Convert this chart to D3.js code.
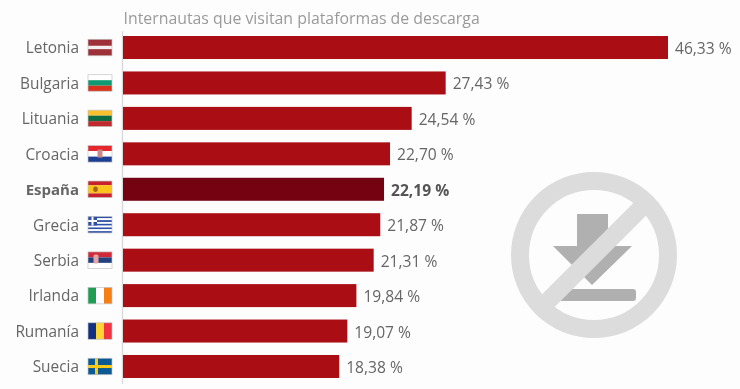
<!DOCTYPE html>
<html>
<head>
<meta charset="utf-8">
<script src="https://cdn.jsdelivr.net/npm/d3@7"></script>
<style>
html,body{margin:0;padding:0;background:#fdfdfd;overflow:hidden}
svg{display:block;filter:blur(.55px)}
text{font-family:"Open Sans",sans-serif}
</style>
</head>
<body>
<svg id="chart" width="740" height="389"></svg>
<script>
const title = 'Internautas que visitan plataformas de descarga'
const countries = ['Letonia','Bulgaria','Lituania','Croacia','España','Grecia','Serbia','Irlanda','Rumanía','Suecia']
const values = [46.33,27.43,24.54,22.70,22.19,21.87,21.31,19.84,19.07,18.38]
const highlight = 'España'

// flag stripes, top to bottom or left to right
const flagStripes = {
	'Letonia':[['#9e3039',2],['#f4eeee',1],['#9e3039',2]],
	'Bulgaria':[['#ffffff',1],['#0f9a72',1],['#d8311c',1]],
	'Lituania':[['#fbc02d',1],['#0f6b41',1],['#bf2a2f',1]],
	'Croacia':[['#e5262c',1],['#ffffff',1],['#1c3f94',1]],
	'España':[['#c8202c',1],['#fbc31c',2],['#c8202c',1]],
	'Grecia':[['#2d4fa8',1],['#ffffff',1],['#2d4fa8',1],['#ffffff',1],['#2d4fa8',1],['#ffffff',1],['#2d4fa8',1],['#ffffff',1],['#2d4fa8',1]],
	'Serbia':[['#d0293a',1],['#23407f',1],['#ffffff',1]],
	'Irlanda':[['#1f9e53',1],['#ffffff',1],['#f57f17',1]],
	'Rumanía':[['#12307f',1],['#fbd535',1],['#ef3340',1]],
	'Suecia':[['#0b5a94',1]]
}
const verticalFlags = ['Irlanda','Rumanía']

const svg = d3.select('#chart')
const x = d3.scaleLinear().domain([0,46.33]).range([123,668])
const y = d3.scaleBand().domain(countries).range([30.7,383.3]).paddingInner(0.351).paddingOuter(0.15)
const fmt = d3.formatLocale({decimal:',',thousands:'.',grouping:[3],currency:['','€']}).format('.2f')

svg.append('text')
	.attr('x',123.5)
	.attr('y',24)
	.attr('fill','#9a9a9a')
	.attr('font-size',15.85)
	.text(title)

// category axis
const axis = svg.append('g')
	.attr('transform','translate(122,0)')
	.call(d3.axisLeft(y).tickSize(0).tickPadding(43))
axis.select('.domain').attr('stroke','#d9d9d9').attr('stroke-width',1.4)
axis.selectAll('text')
	.style('font-family','"Open Sans",sans-serif')
	.attr('font-size',d=>d===highlight?15:15.4)
	.attr('fill','#666')
	.attr('font-weight',d=>d===highlight?700:400)
	.attr('dy','.38em')

// bars
svg.selectAll('.bar')
	.data(countries)
	.join('rect')
	.attr('class','bar')
	.attr('x',x(0))
	.attr('y',d=>y(d))
	.attr('width',(d,i)=>x(values[i])-x(0))
	.attr('height',y.bandwidth())
	.attr('fill',d=>d===highlight?'#750211':'#ab0d14')

svg.selectAll('.value')
	.data(countries)
	.join('text')
	.attr('class','value')
	.attr('x',(d,i)=>x(values[i])+7)
	.attr('y',d=>y(d)+y.bandwidth()/2+1)
	.attr('dy','.35em')
	.attr('font-size',15.6)
	.attr('fill',d=>d===highlight?'#555':'#666')
	.attr('font-weight',d=>d===highlight?700:400)
	.text((d,i)=>fmt(values[i])+' %')

// flags
const flagW = 24, flagH = 16.5
const flags = svg.selectAll('.flag')
	.data(countries)
	.join('g')
	.attr('class','flag')
	.attr('transform',d=>`translate(88,${y(d)+y.bandwidth()/2-flagH/2})`)

flags.each(function(name){
	const g = d3.select(this)
	const stripes = flagStripes[name]
	const vertical = verticalFlags.includes(name)
	const total = d3.sum(stripes,s=>s[1])
	const len = vertical?flagW:flagH
	let pos = 0
	for (let s of stripes){
		const size = s[1]/total*len
		g.append('rect')
			.attr('x',vertical?pos:0)
			.attr('y',vertical?0:pos)
			.attr('width',vertical?size:flagW)
			.attr('height',vertical?flagH:size)
			.attr('fill',s[0])
		pos += size
	}
	if (name==='Grecia'){
		g.append('rect').attr('width',9).attr('height',9).attr('fill','#2d4fa8')
		g.append('rect').attr('x',3.5).attr('width',2).attr('height',9).attr('fill','#fff')
		g.append('rect').attr('y',3.5).attr('width',9).attr('height',2).attr('fill','#fff')
	}
	if (name==='Suecia'){
		g.append('rect').attr('x',7).attr('width',3).attr('height',flagH).attr('fill','#fcc917')
		g.append('rect').attr('y',6.8).attr('width',flagW).attr('height',3).attr('fill','#fcc917')
	}
	if (name==='Croacia'){
		g.append('rect').attr('x',9.5).attr('y',4).attr('width',5).attr('height',8).attr('fill','#c98a8c')
	}
	if (name==='España'){
		g.append('ellipse').attr('cx',7.5).attr('cy',8.2).attr('rx',2.3).attr('ry',2.7).attr('fill','#a8641c')
	}
	if (name==='Serbia'){
		g.append('rect').attr('x',5.5).attr('y',2.5).attr('width',5).attr('height',9).attr('rx',1.5).attr('fill','#e3a5a5')
	}
	g.append('rect')
		.attr('width',flagW)
		.attr('height',flagH)
		.attr('fill','none')
		.attr('stroke','#c4c4c4')
		.attr('stroke-width',.7)
})

// no-download icon
const icon = svg.append('g').attr('transform','translate(594,255)')
icon.append('path')
	.attr('d','M-17,-41 L14,-41 L14,-9 L38,-9 L-2,30 L-41,-9 L-17,-9 Z')
	.attr('fill','#b0b0b0')
icon.append('path')
	.attr('d','M-36,34 L39,34 Q42,34 42,37 L42,43 Q42,46 39,46 L-36,46 Z')
	.attr('fill','#b0b0b0')
icon.append('circle')
	.attr('r',74)
	.attr('fill','none')
	.attr('stroke','#dcdcdc')
	.attr('stroke-width',18)
icon.append('line')
	.attr('x1',-54).attr('y1',54)
	.attr('x2',54).attr('y2',-54)
	.attr('stroke','#dcdcdc')
	.attr('stroke-width',18)
</script>
</body>
</html>
